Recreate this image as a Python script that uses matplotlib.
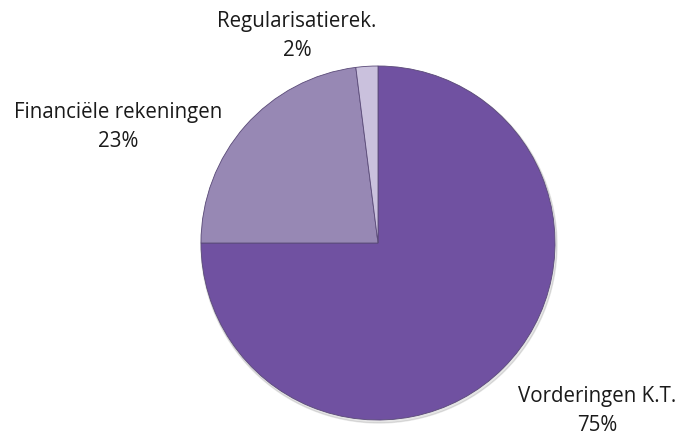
import matplotlib.pyplot as plt

labels = ["Vorderingen K.T.", "Financiële rekeningen", "Regularisatierek."]
values = [75, 23, 2]
colors = ["#7051a1", "#9788b4", "#cac1dd"]

H = 436
# label positions in pixels (x, y from top)
label_pos = {
    "Vorderingen K.T.": (597, 411),
    "Financiële rekeningen": (118, 127),
    "Regularisatierek.": (297, 36),
}

plt.rcParams['font.family'] = ['Open Sans', 'DejaVu Sans']

fig = plt.figure(figsize=(6.82, 4.36), dpi=100)
ax = fig.add_axes([0, 0, 1, 1])

# soft shadow under the pie
shadow = plt.Circle((379, H - 245), 178, color='#000000', alpha=0.10, zorder=0)
ax.add_patch(shadow)

wedges, _ = ax.pie(values, colors=colors, startangle=90, counterclock=False,
                   center=(378, H - 243), radius=177, frame=True,
                   wedgeprops=dict(edgecolor='#5a4a78', linewidth=0.6))
ax.set_xlim(0, 682)
ax.set_ylim(0, H)
ax.set_aspect('equal')
ax.axis('off')

total = sum(values)
for lab, val in zip(labels, values):
    x, y = label_pos[lab]
    pct = round(100 * val / total)
    ax.text(x, H - y, f"{lab}\n{pct}%", ha='center', va='center', fontsize=14.8,
            color='#1a1a1a', linespacing=1.45)

fig.savefig("out.png", dpi=100)
